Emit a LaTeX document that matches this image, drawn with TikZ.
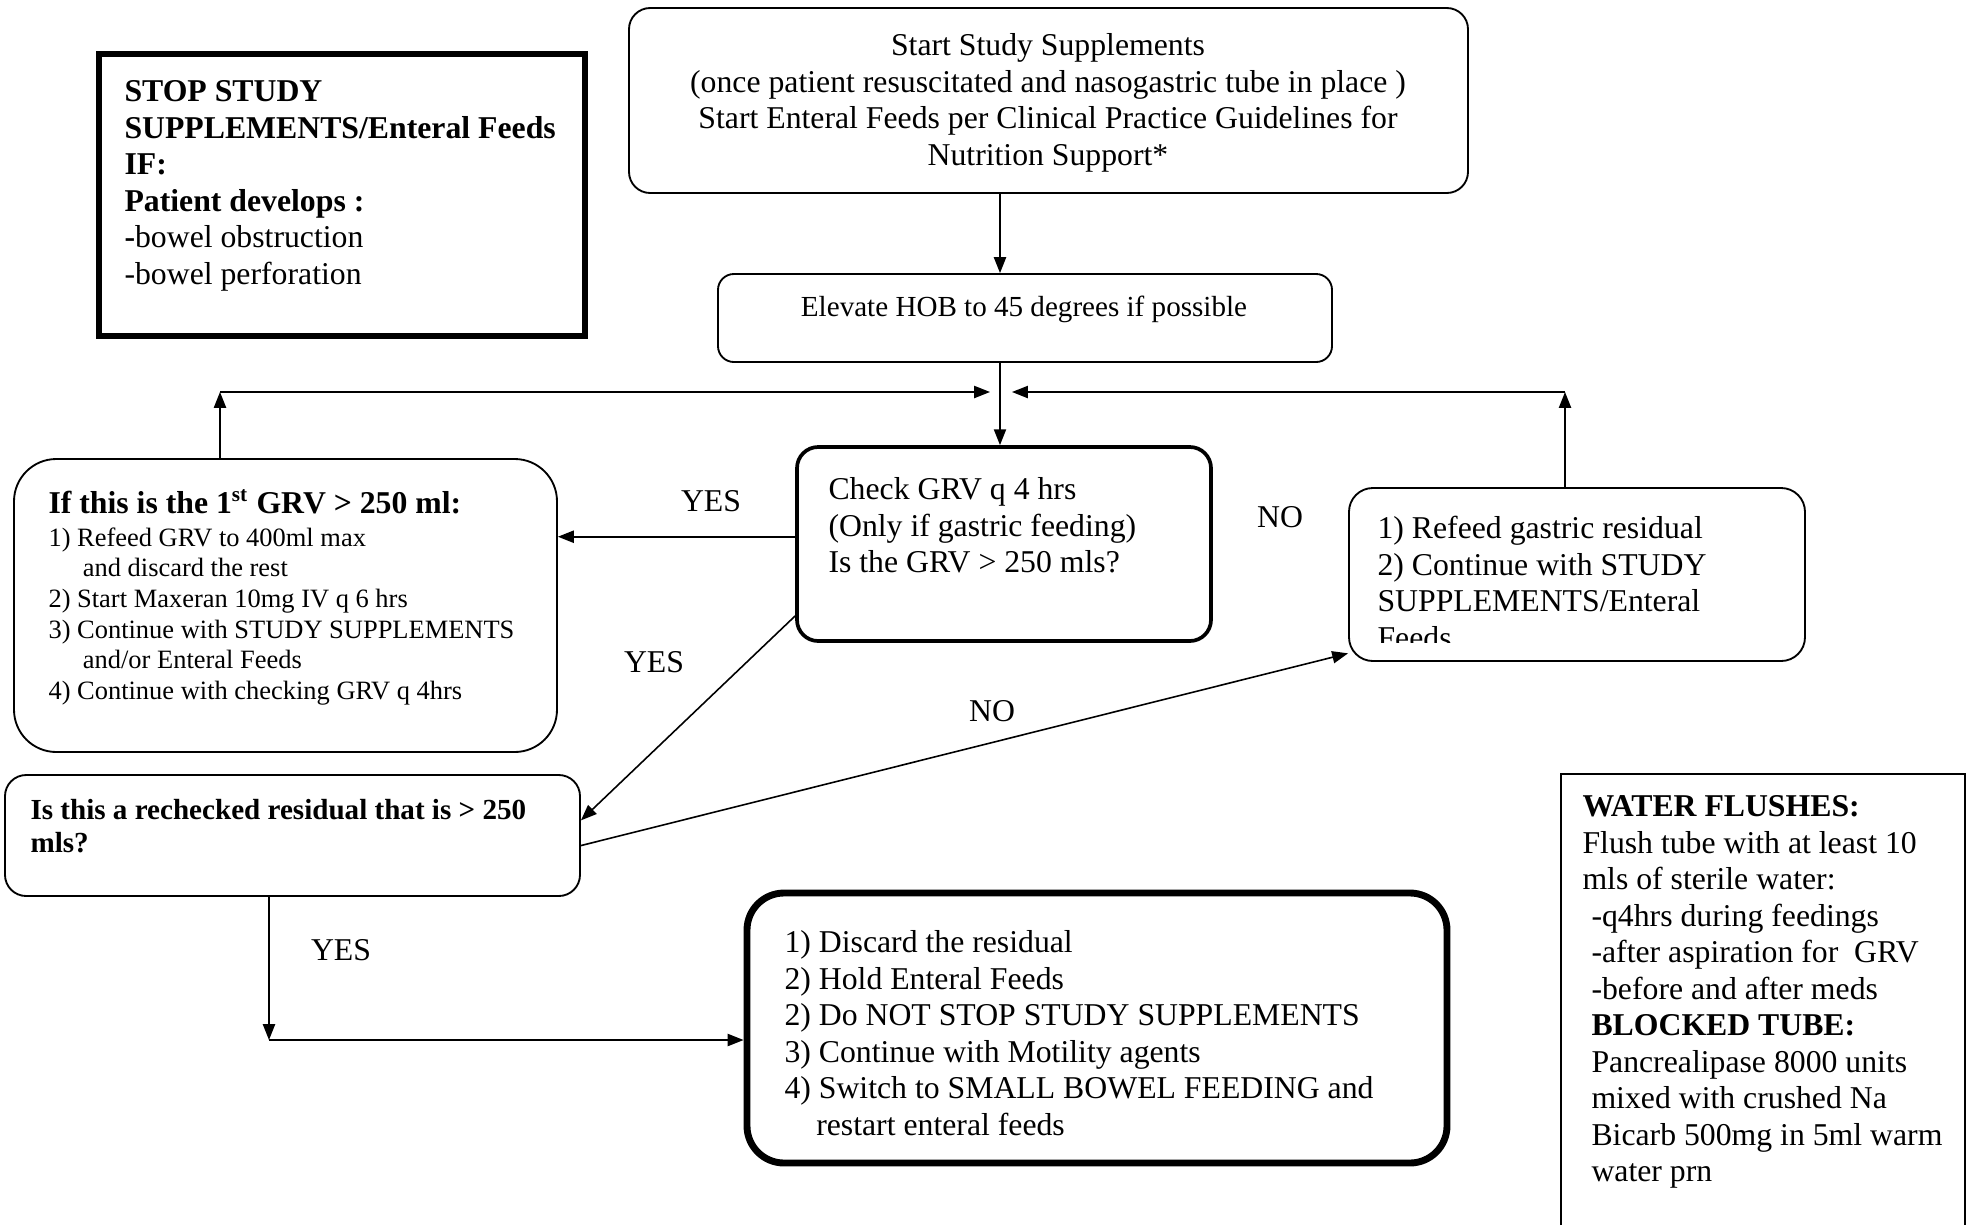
\documentclass[tikz,border=0pt]{standalone}
\usepackage{fontspec}
\setmainfont{Liberation Serif}
\usetikzlibrary{arrows.meta,fit}

\begin{document}
\begin{tikzpicture}[x=0.378pt, y=-0.378pt,
    box/.style={draw, line width=0.7pt, inner sep=0pt},
    arr/.style={line width=0.6pt, -{Triangle[length=6pt,width=4.6pt]}},
    txt/.style={inner sep=0pt, align=left, anchor=north west, font=\fontsize{12}{13.8}\selectfont},
    lbl/.style={inner sep=0pt, anchor=base, font=\fontsize{12}{13.8}\selectfont}]

    % Keep the page at the size of the chart
    \useasboundingbox (0,0) rectangle (1971,1225);

    % Junction points of the connectors
    \coordinate (join) at (1000,392);
    \coordinate (ljoin) at (990,392);
    \coordinate (rjoin) at (1012,392);
    \coordinate (lcorner) at (220,392);
    \coordinate (rcorner) at (1565,392);
    \coordinate (bcorner) at (269,1040);

    % The boxes
    \node[box, line width=2.6pt, fit={(99,54) (585,336)}] (stop) {};
    \node[box, rounded corners=8pt, fit={(629,8) (1468,193)}] (start) {};
    \node[box, rounded corners=6pt, fit={(718,274) (1332,362)}] (elevate) {};
    \node[box, line width=1.4pt, rounded corners=8pt, fit={(797,447) (1211,641)}] (check) {};
    \node[box, rounded corners=16pt, fit={(14,459) (557,752)}] (grv) {};
    \node[box, rounded corners=8pt, fit={(5,775) (580,896)}] (recheck) {};
    \node[box, rounded corners=9pt, fit={(1349,488) (1805,661)}] (refeed) {};
    \node[box, line width=2.6pt, rounded corners=14pt, fit={(747,893) (1447,1163)}] (final) {};

    % Water flushes box, open at the bottom
    \draw[line width=0.6pt] (1561,1225) -- (1561,774) -- (1965,774) -- (1965,1225);

    % Texts of the boxes
    \node[txt] (stoptxt) at (124,80) {\textbf{STOP STUDY}\\
        \textbf{SUPPLEMENTS/Enteral Feeds}\\
        \textbf{IF:}\\
        \textbf{Patient develops :}\\
        \textbf{-}bowel obstruction\\
        -bowel perforation};
    \node[txt, align=center, anchor=north] (starttxt) at (1048,33) {Start Study Supplements\\
        (once patient resuscitated and nasogastric tube in place )\\
        Start Enteral Feeds per Clinical Practice Guidelines for\\
        Nutrition Support*};
    \node[lbl, font=\fontsize{11}{12.6}\selectfont] (elevatetxt) at (1024,316) {Elevate HOB to 45 degrees if possible};
    \node[txt] (checktxt) at (828,477) {Check GRV q 4 hrs\\
        (Only if gastric feeding)\\
        Is the GRV > 250 mls?};
    \node[lbl, anchor=base west, font=\fontsize{12}{13.8}\bfseries] (grvhead) at (48,513) {If this is the 1\textsuperscript{st} GRV > 250 ml:};
    \node[txt, font=\fontsize{10}{11.6}\selectfont] (grvtxt) at (48,527) {1) Refeed GRV to 400ml max\\
        \hspace*{1.3em}and discard the rest\\
        2) Start Maxeran 10mg IV q 6 hrs\\
        3) Continue with STUDY SUPPLEMENTS\\
        \hspace*{1.3em}and/or Enteral Feeds\\
        4) Continue with checking GRV q 4hrs};
    \node[txt, font=\fontsize{11}{12.5}\bfseries] (rechecktxt) at (30,799) {Is this a rechecked residual that is > 250\\
        mls?};
    \begin{scope}
        \clip (1349,488) rectangle (1805,642);
        \node[txt] (refeedtxt) at (1377,516) {1) Refeed gastric residual\\
            2) Continue with STUDY\\
            SUPPLEMENTS/Enteral\\
            Feeds};
    \end{scope}
    \node[txt] (finaltxt) at (784,930) {1) Discard the residual\\
        2) Hold Enteral Feeds\\
        2) Do NOT STOP STUDY SUPPLEMENTS\\
        3) Continue with Motility agents\\
        4) Switch to SMALL BOWEL FEEDING and\\
        \hspace*{1em}restart enteral feeds};
    \node[txt] (watertxt) at (1582,795) {\textbf{WATER FLUSHES:}\\
        Flush tube with at least 10\\
        mls of sterile water:\\
        \hspace*{3.4pt}-q4hrs during feedings\\
        \hspace*{3.4pt}-after aspiration for\ \ GRV\\
        \hspace*{3.4pt}-before and after meds\\
        \hspace*{3.4pt}\textbf{BLOCKED TUBE:}\\
        \hspace*{3.4pt}Pancrealipase 8000 units\\
        \hspace*{3.4pt}mixed with crushed Na\\
        \hspace*{3.4pt}Bicarb 500mg in 5ml warm\\
        \hspace*{3.4pt}water prn};

    % Connectors
    \draw[arr] (join |- start.south) -- (join |- elevate.north);
    \draw[arr] (join |- elevate.south) -- (join |- check.north);
    \draw[arr] (lcorner |- grv.north) -- (lcorner);
    \draw[arr] (lcorner) -- (ljoin);
    \draw[arr] (rcorner |- refeed.north) -- (rcorner);
    \draw[arr] (rcorner) -- (rjoin);
    \draw[arr] (check.178.06) -- (check.178.06 -| grv.east);
    \draw[arr] (check.199) -- (recheck.3.4);
    \draw[arr] (recheck.-2.3) -- (refeed.199.5);
    \draw[arr] (bcorner |- recheck.south) -- (bcorner);
    \draw[arr] (bcorner) -- (bcorner -| final.west);

    % YES and NO labels
    \node[lbl] (yes1) at (711,511) {YES};
    \node[lbl] (yes2) at (654,672) {YES};
    \node[lbl] (yes3) at (341,960) {YES};
    \node[lbl] (no1) at (1280,527) {NO};
    \node[lbl] (no2) at (992,721) {NO};

\end{tikzpicture}
\end{document}
